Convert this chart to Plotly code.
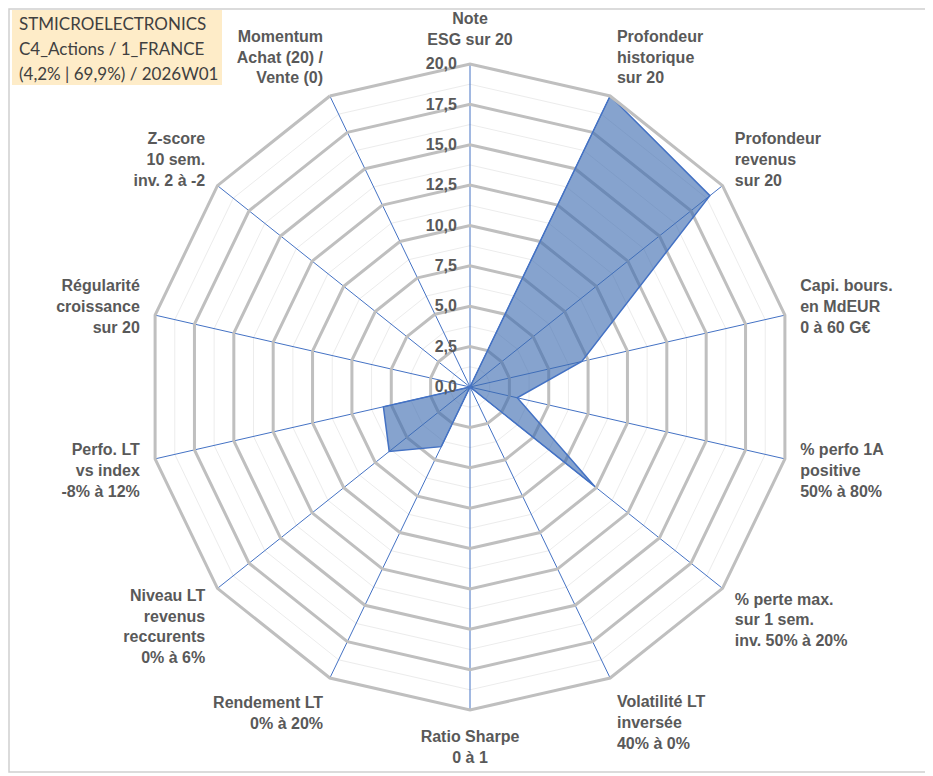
import plotly.graph_objects as go

# Axes du radar (sens horaire, en partant du haut)
criteres = [
    "Note<br>ESG sur 20",
    "Profondeur<br>historique<br>sur 20",
    "Profondeur<br>revenus<br>sur 20",
    "Capi. bours.<br>en MdEUR<br>0 à 60 G€",
    "% perfo 1A<br>positive<br>50% à 80%",
    "% perte max.<br>sur 1 sem.<br>inv. 50% à 20%",
    "Volatilité LT<br>inversée<br>40% à 0%",
    "Ratio Sharpe<br>0 à 1",
    "Rendement LT<br>0% à 20%",
    "Niveau LT<br>revenus<br>reccurents<br>0% à 6%",
    "Perfo. LT<br>vs index<br>-8% à 12%",
    "Régularité<br>croissance<br>sur 20",
    "Z-score<br>10 sem.<br>inv. 2 à -2",
    "Momentum<br>Achat (20) /<br>Vente (0)",
]
notes = [0, 20, 19, 7.1, 3.0, 9.9, 0, 0, 4.1, 6.4, 5.5, 0, 0, 0]

titre = ["STMICROELECTRONICS", "C4_Actions / 1_FRANCE", "(4,2% | 69,9%) / 2026W01"]

W, H = 933, 776
OFF = 8  # marge du <body> de la page
cx, cy, rad = 470 - OFF, 387 - OFF, 323
dom_x = [(cx - rad) / W, (cx + rad) / W]
dom_y = [(H - cy - rad) / H, (H - cy + rad) / H]

BLEU = "#4472C4"
GRIS = "#BFBFBF"
TXT = "#595959"
police = dict(family="Liberation Sans", size=16, color=TXT, weight="bold")


def px(x, y):
    return (x - OFF) / W, 1 - (y - OFF) / H


fig = go.Figure()

# couche du dessous : quadrillage secondaire
fig.add_trace(go.Scatterpolar(
    r=notes + notes[:1], theta=criteres + criteres[:1], subplot="polar",
    mode="lines", opacity=0, hoverinfo="skip", showlegend=False,
))

# série principale
fig.add_trace(go.Scatterpolar(
    r=notes + notes[:1], theta=criteres + criteres[:1], subplot="polar2",
    mode="lines", fill="toself", fillcolor="rgba(60,107,176,0.62)",
    line=dict(color=BLEU, width=1.5), showlegend=False,
))

angulaire = dict(
    type="category", categoryarray=criteres, rotation=90, direction="clockwise",
)

fx0, fy1 = px(2, 2)
fx1, fy0 = px(928, 772)
bx0, by1 = px(12, 10)
bx1, by0 = px(222, 85)

fig.update_layout(
    width=W, height=H,
    margin=dict(l=0, r=0, t=0, b=0),
    paper_bgcolor="white",
    separators=", ",
    polar=dict(
        domain=dict(x=dom_x, y=dom_y),
        gridshape="linear",
        bgcolor="white",
        radialaxis=dict(range=[0, 20], dtick=1.25, showticklabels=False, ticks="",
                        showline=False, gridcolor="#ECECEC", gridwidth=1),
        angularaxis=dict(**angulaire, showgrid=False, showline=False,
                         showticklabels=False, ticks=""),
    ),
    polar2=dict(
        domain=dict(x=dom_x, y=dom_y),
        gridshape="linear",
        bgcolor="rgba(0,0,0,0)",
        radialaxis=dict(range=[0, 20], dtick=2.5, tickformat=".1f", angle=90,
                        tickangle=90, side="counterclockwise", showline=False,
                        ticks="outside", ticklen=7, tickcolor="rgba(0,0,0,0)",
                        gridcolor=GRIS, gridwidth=2.8, tickfont=police),
        angularaxis=dict(**angulaire, showgrid=True, gridcolor=BLEU, gridwidth=1.3,
                         showline=True, linecolor=GRIS, linewidth=3,
                         ticks="outside", ticklen=11, tickcolor="rgba(0,0,0,0)",
                         tickfont=police),
    ),
    shapes=[
        dict(type="rect", xref="paper", yref="paper",
             x0=max(fx0, 1 / W), x1=fx1, y0=fy0, y1=min(fy1, 1 - 1 / H),
             line=dict(color="#D0D0D0", width=1.5), layer="below"),
        dict(type="rect", xref="paper", yref="paper",
             x0=bx0, x1=bx1, y0=by0, y1=by1,
             fillcolor="#FEECC8", line=dict(width=0), layer="below"),
    ],
)

for i, ligne in enumerate(titre):
    ax, ay = px(17, 23 + 25 * i)
    fig.add_annotation(
        x=ax, y=ay, xref="paper", yref="paper",
        text=ligne, showarrow=False, xanchor="left", yanchor="middle",
        font=dict(family="Lato", size=17, color="#404040"),
    )

fig.write_html("out.html")
